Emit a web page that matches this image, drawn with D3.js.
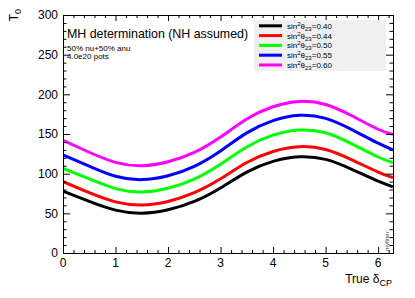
<!DOCTYPE html>
<html>
<head>
<meta charset="utf-8">
<script src="https://cdn.jsdelivr.net/npm/d3@7"></script>
<style>
  body { margin: 0; background: #fff; }
  text { font-family: "Liberation Sans", Arial, Helvetica, sans-serif; }
</style>
</head>
<body>
<svg id="chart" width="415" height="298"></svg>
<script>
// values
var deltaCP = [0, 0.5, 1.0, 1.5, 2.0, 2.5, 3.0, 3.5, 4.0, 4.5, 5.0, 5.5, 6.0, 6.283];
var t0_040 = [78, 65, 54, 50.2, 54.5, 65, 82, 102, 115.5, 121.2, 118, 105.5, 90.5, 83.5];
var t0_044 = [90, 76, 64.5, 60.5, 65, 76, 93.5, 114, 128, 134, 130.5, 117.5, 102, 95];
var t0_050 = [106.7, 93.5, 81.2, 77, 81.7, 93.2, 112, 133.7, 148.5, 155, 151.5, 137.5, 121, 114];
var t0_055 = [123.5, 109.5, 96.8, 92.5, 97.4, 109.3, 128.7, 151.4, 166.8, 173.5, 169.7, 155.5, 138.4, 130];
var t0_060 = [142, 127, 114.3, 110, 115, 126.8, 146.2, 169, 184.3, 191, 187.2, 173, 156, 149.5];
var seriesLabels = ["0.40", "0.44", "0.50", "0.55", "0.60"];
var seriesColors = ["#000000", "#ff0000", "#00ff00", "#0000ff", "#ff00ff"];
var allSeries = [t0_040, t0_044, t0_050, t0_055, t0_060];
var xTicks = [0, 1, 2, 3, 4, 5, 6];
var yTicks = [0, 50, 100, 150, 200, 250, 300];

var svg = d3.select("#chart");
var padL = 63, padR = 393, padT = 15, padB = 253;

var x = d3.scaleLinear().domain([0, 2 * Math.PI]).range([padL, padR]);
var y = d3.scaleLinear().domain([0, 300]).range([padB, padT]);

svg.append("defs").append("clipPath").attr("id", "plotclip")
  .append("rect").attr("x", padL).attr("y", padT)
  .attr("width", padR - padL).attr("height", padB - padT);

// curves
var line = d3.line()
  .x(function(d, i) { return x(deltaCP[i]); })
  .y(function(d) { return y(d); })
  .curve(d3.curveNatural);

allSeries.forEach(function(s, k) {
  svg.append("path")
    .datum(s)
    .attr("clip-path", "url(#plotclip)")
    .attr("d", line)
    .attr("fill", "none")
    .attr("stroke", seriesColors[k])
    .attr("stroke-width", 3);
});

// minor tick values
var xMinor = d3.range(0, 6.3, 0.2).filter(function(v) { return Math.abs(v - Math.round(v)) > 0.01; });
var yMinor = d3.range(0, 301, 10).filter(function(v) { return v % 50 != 0; });

// axes (ROOT style, ticks inside, on all four sides)
function tickAxis(axisFn, scale, vals, size) {
  return axisFn(scale).tickValues(vals).tickSizeInner(size).tickSizeOuter(0).tickFormat("");
}

var gB = svg.append("g").attr("transform", "translate(0," + padB + ")");
gB.call(tickAxis(d3.axisTop, x, xTicks, 6));
gB.append("g").call(tickAxis(d3.axisTop, x, xMinor, 3));

var gT = svg.append("g").attr("transform", "translate(0," + padT + ")");
gT.call(tickAxis(d3.axisBottom, x, xTicks, 6));
gT.append("g").call(tickAxis(d3.axisBottom, x, xMinor, 3));

var gL = svg.append("g").attr("transform", "translate(" + padL + ",0)");
gL.call(tickAxis(d3.axisRight, y, yTicks, 7));
gL.append("g").call(tickAxis(d3.axisRight, y, yMinor, 3.5));

var gR = svg.append("g").attr("transform", "translate(" + padR + ",0)");
gR.call(tickAxis(d3.axisLeft, y, yTicks, 7));
gR.append("g").call(tickAxis(d3.axisLeft, y, yMinor, 3.5));

svg.selectAll(".domain").attr("stroke", "#000").attr("stroke-width", 1);
svg.selectAll(".tick line").attr("stroke", "#000").attr("stroke-width", 1);

// tick labels
svg.append("g").selectAll("text").data(xTicks).enter().append("text")
  .attr("x", function(d) { return x(d); })
  .attr("y", 267)
  .attr("text-anchor", "middle")
  .attr("font-size", 12)
  .text(function(d) { return d; });

svg.append("g").selectAll("text").data(yTicks).enter().append("text")
  .attr("x", 58)
  .attr("y", function(d) { return y(d) + 4.3; })
  .attr("text-anchor", "end")
  .attr("font-size", 12)
  .text(function(d) { return d; });

// axis titles
var xt = svg.append("text").attr("x", 392).attr("y", 283)
  .attr("text-anchor", "end").attr("font-size", 12);
xt.append("tspan").text("True \u03b4");
xt.append("tspan").attr("dy", 3).attr("font-size", 9).text("CP");

var yt = svg.append("text").attr("transform", "translate(18,9) rotate(-90)")
  .attr("text-anchor", "end").attr("font-size", 12);
yt.append("tspan").text("T");
yt.append("tspan").attr("dy", 3).attr("font-size", 9).text("0");

// annotations
svg.append("text").attr("x", 67).attr("y", 38).attr("font-size", 12.4)
  .text("MH determination (NH assumed)");
svg.append("text").attr("x", 67).attr("y", 51).attr("font-size", 8)
  .text("50% nu+50% anu");
svg.append("text").attr("x", 67).attr("y", 59).attr("font-size", 8)
  .text("4.0e20 pots");

svg.append("text").attr("transform", "translate(389,251) rotate(-90)")
  .attr("font-size", 6).attr("fill", "#444").text("myfitter");

// legend
var lg = svg.append("g");
lg.append("rect").attr("x", 254).attr("y", 20).attr("width", 132).attr("height", 51)
  .attr("fill", "#f0f0f0");
seriesLabels.forEach(function(lab, k) {
  var ry = 25.8 + k * 9.8;
  lg.append("line").attr("x1", 259).attr("x2", 282).attr("y1", ry).attr("y2", ry)
    .attr("stroke", seriesColors[k]).attr("stroke-width", 3);
  var t = lg.append("text").attr("x", 287).attr("y", ry + 3).attr("font-size", 8);
  t.append("tspan").text("sin");
  t.append("tspan").attr("dy", -3).attr("font-size", 6).text("2");
  t.append("tspan").attr("dy", 3).text("\u03b8");
  t.append("tspan").attr("dy", 2).attr("font-size", 6).text("23");
  t.append("tspan").attr("dy", -2).text("=" + lab);
});
</script>
</body>
</html>
